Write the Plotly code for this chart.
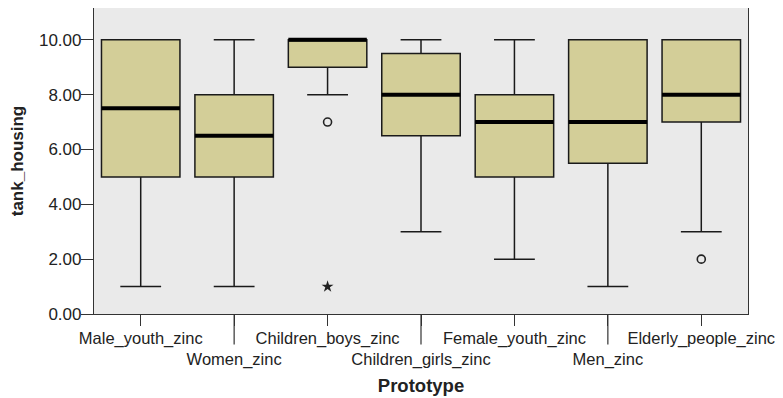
import plotly.graph_objects as go

categories = ["Male_youth_zinc", "Women_zinc", "Children_boys_zinc", "Children_girls_zinc",
              "Female_youth_zinc", "Men_zinc", "Elderly_people_zinc"]
q1 = [5.0, 5.0, 9.0, 6.5, 5.0, 5.5, 7.0]
median = [7.5, 6.5, 10.0, 8.0, 7.0, 7.0, 8.0]
q3 = [10.0, 8.0, 10.0, 9.5, 8.0, 10.0, 10.0]
lower = [1.0, 1.0, 8.0, 3.0, 2.0, 1.0, 3.0]
upper = [10.0, 10.0, 10.0, 10.0, 10.0, 10.0, 10.0]
outlier_cat = ["Children_boys_zinc", "Elderly_people_zinc"]
outlier_val = [7.0, 2.0]
extreme_cat = ["Children_boys_zinc"]
extreme_val = [1.0]
y_ticks = [0, 2, 4, 6, 8, 10]

BOX_W = 0.84
fig = go.Figure()
fig.add_trace(go.Box(
    x=categories, q1=q1, median=median, q3=q3, lowerfence=lower, upperfence=upper,
    boxpoints=False, width=BOX_W, whiskerwidth=0.52,
    fillcolor="#D3CE98", line=dict(color="#1a1a1a", width=1.5), showlegend=False,
    hoverinfo="skip"))
fig.add_trace(go.Scatter(x=outlier_cat, y=outlier_val, mode="markers",
    marker=dict(symbol="circle-open", size=8, color="#222", line=dict(width=1.6)),
    showlegend=False))
fig.add_trace(go.Scatter(x=extreme_cat, y=extreme_val, mode="markers",
    marker=dict(symbol="star", size=9, color="#222"), showlegend=False))

for i, m in enumerate(median):
    fig.add_shape(type="line", xref="x", yref="y", x0=i - BOX_W / 2, x1=i + BOX_W / 2,
                  y0=m, y1=m, line=dict(color="black", width=4))

ticktext = []
for i, c in enumerate(categories):
    if i % 2 == 1:
        ticktext.append("<br>" + c)
        fig.add_shape(type="line", xref="x", yref="y domain", x0=i, x1=i, y0=0, y1=-0.1,
                      line=dict(color="#333", width=1.2))
    else:
        ticktext.append(c)

fig.update_layout(
    width=783, height=398,
    margin=dict(l=86, r=43, t=0, b=92, autoexpand=False),
    paper_bgcolor="white", plot_bgcolor="#EAEAEA",
    font=dict(family="Liberation Sans, Arial", size=16.5, color="#222"),
    xaxis=dict(type="category", categoryorder="array", categoryarray=categories,
               tickvals=categories, ticktext=ticktext, range=[-0.5, 6.5],
               tickangle=0, automargin=False, tickfont=dict(size=16.5),
               showline=True, linecolor="#333", linewidth=1.2, mirror=True,
               ticks="outside", ticklen=11, tickcolor="#333", tickwidth=1.2,
               ticklabelstandoff=-2,
               showgrid=False, zeroline=False,
               title=dict(text="<b>Prototype</b>", standoff=10, font=dict(size=18.5))),
    yaxis=dict(range=[0, 11.16], tickvals=y_ticks, automargin=False,
               ticktext=[f"{v:.2f}" for v in y_ticks], tickfont=dict(size=17),
               showline=True, linecolor="#333", linewidth=1.2, mirror=True,
               ticks="outside", ticklen=12, tickcolor="#333", tickwidth=1.2,
               ticklabelstandoff=-4,
               showgrid=False, zeroline=False,
               title=dict(text="<b>tank_housing</b>", standoff=14, font=dict(size=17))),
)
fig.write_html("out.html")
